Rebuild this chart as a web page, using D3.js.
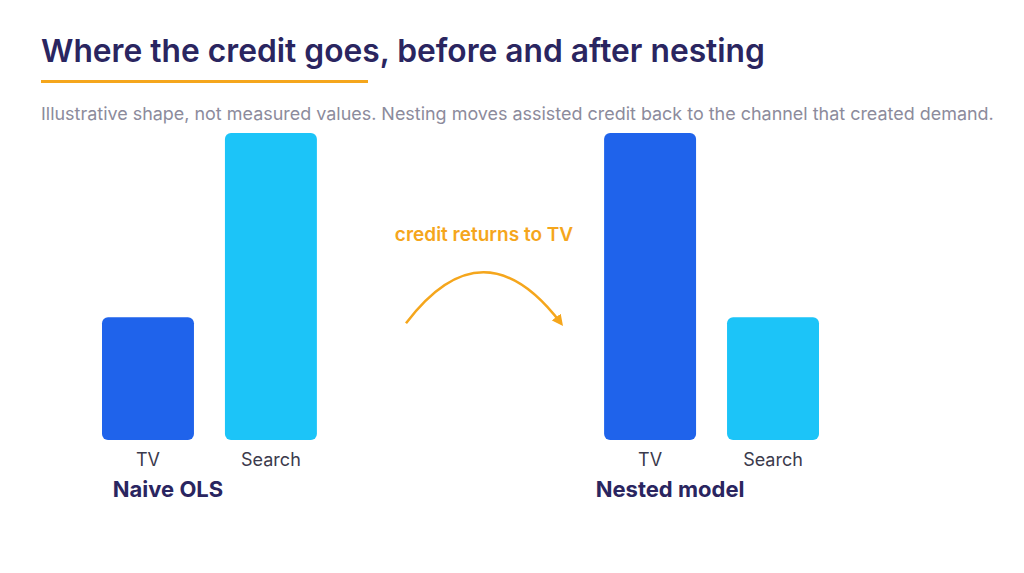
<!DOCTYPE html>
<html>
<head>
<meta charset="utf-8">
<script src="https://cdn.jsdelivr.net/npm/d3@7"></script>
<style>
  body { margin: 0; background: #fff; }
  text { font-family: "Inter", "Noto Sans", sans-serif; }
</style>
</head>
<body>
<div id="chart"></div>
<script>
// Dữ liệu minh hoạ (hình dạng, không phải giá trị đo)
const groups = ["Naive OLS", "Nested model"];
const channels = ["TV", "Search"];
const naiveValues = [40, 100];
const nestedValues = [100, 40];

const titleText = "Where the credit goes, before and after nesting";
const subtitleText = "Illustrative shape, not measured values. Nesting moves assisted credit back to the channel that created demand.";
const arrowText = "credit returns to TV";

const width = 1024, height = 573;
const colors = { TV: "#1f63eb", Search: "#1cc4f8" };
const navy = "#2a2560", orange = "#f5a61c";

let svg = d3.select("#chart").append("svg")
    .attr("width", width)
    .attr("height", height);

// Tiêu đề
let title = svg.append("text")
    .attr("x", 41).attr("y", 62)
    .style("font-size", "30px")
    .style("font-weight", 600)
    .style("fill", navy)
    .text(titleText);

// co giãn để khớp độ rộng
function fitText(sel, target) {
    let len = sel.node().getComputedTextLength();
    let fs = parseFloat(sel.style("font-size"));
    sel.style("font-size", (fs * target / len) + "px");
}
fitText(title, 724);

svg.append("rect")
    .attr("x", 41).attr("y", 80)
    .attr("width", 327).attr("height", 3)
    .attr("fill", orange);

let subtitle = svg.append("text")
    .attr("x", 41).attr("y", 120)
    .style("font-size", "17px")
    .style("fill", "#8c8b9c")
    .text(subtitleText);
fitText(subtitle, 953);

// Thang đo
let x0 = d3.scaleBand()
    .domain(groups)
    .range([102, 819])
    .paddingInner(0.572);

let x1 = d3.scaleBand()
    .domain(channels)
    .range([0, x0.bandwidth()])
    .paddingInner(0.252);

let y = d3.scaleLinear()
    .domain([0, 100])
    .range([440, 133]);

let data = groups.map((g, i) => ({
    group: g,
    values: channels.map((c, j) => ({ channel: c, value: (i === 0 ? naiveValues : nestedValues)[j] }))
}));

let groupG = svg.selectAll(".group")
    .data(data)
    .enter()
    .append("g")
    .attr("class", "group")
    .attr("transform", d => `translate(${x0(d.group)},0)`);

groupG.selectAll(".bar")
    .data(d => d.values)
    .enter()
    .append("rect")
    .attr("class", "bar")
    .attr("x", d => x1(d.channel))
    .attr("y", d => y(d.value))
    .attr("width", x1.bandwidth())
    .attr("height", d => y(0) - y(d.value))
    .attr("rx", 6)
    .attr("fill", d => colors[d.channel]);

// Nhãn kênh
groupG.selectAll(".cat")
    .data(d => d.values)
    .enter()
    .append("text")
    .attr("class", "cat")
    .attr("x", d => x1(d.channel) + x1.bandwidth() / 2)
    .attr("y", y(0) + 26)
    .attr("text-anchor", "middle")
    .style("font-size", "18px")
    .style("fill", "#3b3a4c")
    .text(d => d.channel);

// Nhãn nhóm
groupG.append("text")
    .attr("x", x1("TV") + x1.bandwidth() / 2 + 20)
    .attr("y", y(0) + 57)
    .attr("text-anchor", "middle")
    .style("font-size", "22px")
    .style("font-weight", 700)
    .style("fill", navy)
    .text(d => d.group);

// Mũi tên chú thích
svg.append("defs").append("marker")
    .attr("id", "arrow")
    .attr("viewBox", "0 0 10 10")
    .attr("refX", 7).attr("refY", 5)
    .attr("markerWidth", 4.5).attr("markerHeight", 4.5)
    .attr("orient", "auto")
    .append("path")
    .attr("d", "M0,0 L10,5 L0,10 z")
    .attr("fill", orange);

let ax0 = 406, ax1 = 561, ay = y(38);
svg.append("path")
    .attr("d", `M${ax0},${ay} Q${(ax0 + ax1) / 2},${ay - 102} ${ax1},${ay}`)
    .attr("fill", "none")
    .attr("stroke", orange)
    .attr("stroke-width", 2.5)
    .attr("marker-end", "url(#arrow)");

svg.append("text")
    .attr("x", 484).attr("y", 241)
    .attr("text-anchor", "middle")
    .style("font-size", "19px")
    .style("font-weight", 600)
    .style("fill", orange)
    .text(arrowText);
</script>
</body>
</html>
